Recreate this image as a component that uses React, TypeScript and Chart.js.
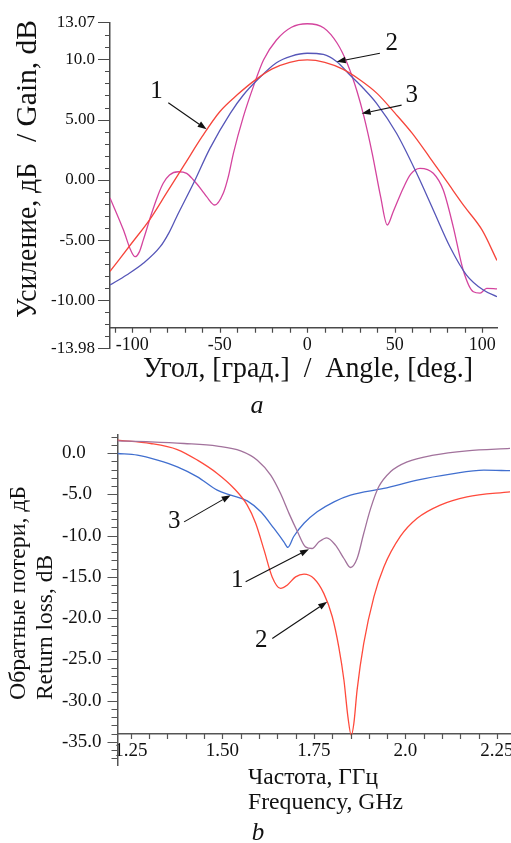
import React, { useEffect, useRef } from 'react';
import { Chart, registerables } from 'chart.js';

Chart.register(...registerables);

const SERIF = "'Liberation Serif', 'Times New Roman', Times, serif";

// ---------------- Chart (a): gain vs angle ----------------
const angle1 = [-112.7, -100, -90, -80, -70, -60, -50, -40, -30, -20, -10, 0, 10, 20, 30, 40, 50, 60, 70, 80, 90, 100, 108.4];
const gain1 = [-7.6, -5.2, -3.3, -1.0, 1.3, 3.6, 5.65, 7.05, 8.25, 9.2, 9.75, 9.95, 9.75, 9.2, 8.3, 7.15, 5.55, 3.85, 1.85, -0.2, -2.25, -4.2, -6.7];

const angle2 = [-112.7, -103.2, -93.7, -84, -79.2, -74.6, -65, -55.6, -44, -36.5, -28.6, -17.6, -9, 0, 9.2, 16.9, 24.4, 32, 39.6, 51, 62.5, 72, 81.5, 91, 100.6, 108.4];
const gain2 = [-8.73, -7.9, -6.93, -5.55, -4.44, -3.06, -0.29, 2.61, 5.52, 7.04, 8.28, 9.72, 10.27, 10.5, 10.4, 9.8, 8.7, 7.6, 6.35, 3.86, 0.54, -2.5, -5.55, -7.9, -9.15, -9.7];

const angle3 = [-112.7, -105, -100.9, -98.4, -96, -93.7, -88.9, -85.6, -82.3, -78.7, -73.7, -68.9, -65, -60.3, -57.5, -52.8, -48, -45.1, -42.2, -36.5, -30.8, -25, -17.6, -9, 0, 9.5, 17.1, 22.8, 28.5, 32.4, 37.1, 41.9, 45.7, 49.1, 54.8, 59, 64.4, 72, 77.7, 83.4, 89.1, 94.9, 98.7, 102.5, 108.4];
const gain3 = [-1.5, -4.17, -5.83, -6.38, -6.0, -5.0, -2.78, -1.4, -0.29, 0.4, 0.67, 0.54, -0.02, -0.85, -1.4, -2.09, -1.12, 0.26, 2.2, 5.24, 7.73, 9.94, 11.6, 12.66, 12.95, 12.6, 11.33, 9.67, 7.31, 5.24, 2.2, -1.4, -3.75, -2.65, -0.7, 0.45, 0.95, 0.54, -0.85, -3.9, -7.5, -9.29, -9.4, -9.0, -9.05];

const gainTickValues = [13.07, 10, 5, 0, -5, -10, -13.98];
const gainTickLabels = ['13.07', '10.0', '5.00', '0.00', '-5.00', '-10.00', '-13.98'];
const angleTickValues = [-100, -50, 0, 50, 100];
const angleTickLabels = ['-100', '-50', '0', '50', '100'];

// ---------------- Chart (b): return loss vs frequency ----------------
const freq1 = [1.2137, 1.3045, 1.3955, 1.4864, 1.55, 1.5955, 1.632, 1.659, 1.682, 1.705, 1.727, 1.745, 1.764, 1.785, 1.809, 1.832, 1.85, 1.868, 1.886, 1.905, 1.927, 1.959, 2.005, 2.077, 2.168, 2.286];
const loss1 = [1.49, 1.37, 1.17, 0.85, 0.28, -0.85, -2.67, -4.9, -7.3, -9.5, -11.36, -11.56, -10.75, -10.26, -11.15, -12.77, -13.86, -12.77, -9.74, -6.7, -4.08, -2.26, -1.05, -0.24, 0.28, 0.57];

const freq2 = [1.2137, 1.3045, 1.377, 1.432, 1.486, 1.532, 1.568, 1.591, 1.614, 1.636, 1.659, 1.677, 1.70, 1.723, 1.75, 1.777, 1.80, 1.818, 1.832, 1.843, 1.852, 1.859, 1.868, 1.886, 1.914, 1.941, 1.986, 2.032, 2.095, 2.168, 2.286];
const loss2 = [1.58, 1.17, 0.44, -0.85, -2.46, -4.28, -6.3, -8.5, -11.76, -15.0, -16.4, -16.0, -15.0, -14.67, -15.2, -17.0, -19.8, -23.5, -27.5, -32.0, -34.2, -32.8, -28.7, -23.1, -17.4, -13.8, -10.1, -7.9, -6.3, -5.3, -4.69];

const freq3 = [1.2137, 1.268, 1.323, 1.377, 1.432, 1.486, 1.523, 1.568, 1.605, 1.641, 1.668, 1.679, 1.695, 1.723, 1.759, 1.805, 1.85, 1.941, 2.032, 2.123, 2.214, 2.286];
const loss3 = [-0.04, -0.24, -0.85, -1.66, -2.87, -4.48, -5.09, -5.78, -7.11, -9.13, -10.75, -11.43, -10.1, -8.5, -7.11, -5.9, -5.09, -4.28, -3.27, -2.55, -2.06, -2.13];

const lossTickValues = [0, -5, -10, -15, -20, -25, -30, -35];
const lossTickLabels = ['0.0', '-5.0', '-10.0', '-15.0', '-20.0', '-25.0', '-30.0', '-35.0'];
const freqTickValues = [1.25, 1.5, 1.75, 2.0, 2.25];
const freqTickLabels = ['1.25', '1.50', '1.75', '2.0', '2.25'];

// callouts (number + arrow), in data units
const gainCallouts = [
  { label: '1', text: [-86.1, 7.31], from: [-79.4, 6.4], to: [-57.5, 4.19] },
  { label: '2', text: [48.2, 11.33], from: [41.5, 10.5], to: [16.8, 9.8] },
  { label: '3', text: [59.7, 7.04], from: [53.9, 6.2], to: [31.1, 5.5] },
];
const lossCallouts = [
  { label: '3', text: [1.3684, -8.33], from: [1.3956, -8.33], to: [1.5227, -5.09] },
  { label: '1', text: [1.541, -15.39], from: [1.5636, -15.6], to: [1.7365, -11.64] },
  { label: '2', text: [1.6064, -22.67], from: [1.6364, -22.46], to: [1.7864, -18.02] },
];

const pts = (xs: number[], ys: number[]) => xs.map((x, i) => ({ x, y: ys[i] }));

function range(a: number, b: number, step: number) {
  const out: number[] = [];
  const n = Math.round((b - a) / step);
  for (let i = 0; i <= n; i++) out.push(+(a + i * step).toFixed(4));
  return out;
}

type TextSpec = { text: string; x: number; y: number; size: number; width?: number; rotate?: boolean; italic?: boolean; align?: CanvasTextAlign };

function drawText(ctx: CanvasRenderingContext2D, t: TextSpec) {
  ctx.save();
  ctx.font = `${t.italic ? 'italic ' : ''}${t.size}px ${SERIF}`;
  ctx.fillStyle = '#111';
  ctx.textBaseline = 'alphabetic';
  ctx.translate(t.x, t.y);
  if (t.rotate) ctx.rotate(-Math.PI / 2);
  if (t.width) {
    const w = ctx.measureText(t.text).width;
    ctx.scale(t.width / w, 1);
    ctx.textAlign = 'left';
  } else {
    ctx.textAlign = t.align || 'center';
  }
  ctx.fillText(t.text, 0, 0);
  ctx.restore();
}

const decorPlugin = {
  id: 'decor',
  afterDraw(chart: any, _args: any, opts: any) {
    const ctx: CanvasRenderingContext2D = chart.ctx;
    const xs = chart.scales.x;
    const ys = chart.scales.y;
    const area = chart.chartArea;
    ctx.save();
    ctx.strokeStyle = opts.axisColor;
    ctx.lineWidth = 1.2;
    ctx.beginPath();
    for (const v of opts.yMinor) {
      const py = Math.round(ys.getPixelForValue(v)) + 0.5;
      const len = opts.yMajor.includes(v) ? opts.yMajorLen : opts.yMinorLen;
      ctx.moveTo(area.left - len, py);
      ctx.lineTo(area.left, py);
    }
    const axisY = ys.getPixelForValue(opts.xAxisAt);
    for (const v of opts.xMinor) {
      const px = Math.round(xs.getPixelForValue(v)) + 0.5;
      ctx.moveTo(px, axisY);
      ctx.lineTo(px, axisY + opts.xTickLen);
    }
    ctx.stroke();

    // callouts
    ctx.strokeStyle = '#111';
    ctx.fillStyle = '#111';
    ctx.lineWidth = 1.1;
    for (const c of opts.callouts) {
      const tx = xs.getPixelForValue(c.text[0]);
      const ty = ys.getPixelForValue(c.text[1]);
      ctx.font = `${opts.calloutSize}px ${SERIF}`;
      ctx.textAlign = 'center';
      ctx.textBaseline = 'middle';
      ctx.fillText(c.label, tx, ty);
      const x1 = xs.getPixelForValue(c.from[0]);
      const y1 = ys.getPixelForValue(c.from[1]);
      const x2 = xs.getPixelForValue(c.to[0]);
      const y2 = ys.getPixelForValue(c.to[1]);
      const ang = Math.atan2(y2 - y1, x2 - x1);
      const hl = 9, hw = 3.2;
      const bx = x2 - hl * Math.cos(ang), by = y2 - hl * Math.sin(ang);
      ctx.beginPath();
      ctx.moveTo(x1, y1);
      ctx.lineTo(bx, by);
      ctx.stroke();
      ctx.beginPath();
      ctx.moveTo(x2, y2);
      ctx.lineTo(bx + hw * Math.sin(ang), by - hw * Math.cos(ang));
      ctx.lineTo(bx - hw * Math.sin(ang), by + hw * Math.cos(ang));
      ctx.closePath();
      ctx.fill();
    }
    for (const t of opts.texts) drawText(ctx, t);
    ctx.restore();
  },
};

function lineDs(data: any[], color: string) {
  return {
    data,
    borderColor: color,
    backgroundColor: color,
    borderWidth: 1.3,
    pointRadius: 0,
    fill: false,
    cubicInterpolationMode: 'monotone',
  };
}

// keep the chart area exactly where the layout padding puts it
const noAutoPad = (s: any) => {
  s.paddingTop = 0;
  s.paddingBottom = 0;
  s.paddingLeft = 0;
  s.paddingRight = 0;
};

const W = 511;
const H1 = 420;
const H2 = 423;

function gainConfig(): any {
  return {
    type: 'line',
    data: {
      datasets: [
        lineDs(pts(angle1, gain1), '#f6453b'),
        lineDs(pts(angle2, gain2), '#5656b8'),
        lineDs(pts(angle3, gain3), '#d4449e'),
      ],
    },
    options: {
      animation: false,
      responsive: false,
      maintainAspectRatio: false,
      layout: { padding: { left: 0, right: 14, top: 22.3, bottom: H1 - 348.3 } },
      plugins: {
        legend: { display: false },
        tooltip: { enabled: false },
        decor: {
          axisColor: '#4a4a4a',
          yMinor: [13.07, ...range(-13, 12, 1), -13.98],
          yMajor: gainTickValues,
          yMajorLen: 12,
          yMinorLen: 5,
          xMinor: range(-110, 100, 10),
          xAxisAt: -12.27,
          xTickLen: 5,
          calloutSize: 25,
          callouts: gainCallouts,
          texts: [
            { text: 'Усиление, дБ', x: 36, y: 318, size: 29, width: 155, rotate: true },
            { text: '/ Gain, dB', x: 36, y: 142, size: 29, width: 122, rotate: true },
            { text: 'Угол, [град.]  /  Angle, [deg.]', x: 143, y: 377, size: 29, width: 330 },
            { text: 'a', x: 257, y: 413, size: 26, italic: true },
          ],
        },
      },
      scales: {
        x: {
          type: 'linear',
          min: -112.7,
          max: 108.4,
          position: { y: -12.27 },
          grid: { display: false, drawTicks: false },
          border: { display: true, color: '#4a4a4a', width: 1.5 },
          afterBuildTicks: (s: any) => { s.ticks = angleTickValues.map((v) => ({ value: v })); },
          afterFit: noAutoPad,
          ticks: {
            autoSkip: false,
            maxRotation: 0,
            padding: 7,
            color: '#111',
            font: { family: SERIF, size: 18 },
            callback: (v: number) => { const i = angleTickValues.indexOf(v); return i >= 0 ? angleTickLabels[i] : ''; },
          },
        },
        y: {
          type: 'linear',
          min: -13.98,
          max: 13.07,
          position: 'left',
          afterFit: (s: any) => { s.width = 110; noAutoPad(s); },
          grid: { display: false, drawTicks: false },
          border: { display: true, color: '#4a4a4a', width: 1.5 },
          afterBuildTicks: (s: any) => { s.ticks = gainTickValues.map((v) => ({ value: v })); },
          ticks: {
            autoSkip: false,
            padding: 15,
            color: '#111',
            font: { family: SERIF, size: 17 },
            callback: (v: number) => { const i = gainTickValues.indexOf(v); return i >= 0 ? gainTickLabels[i] : ''; },
          },
        },
      },
    },
    plugins: [decorPlugin],
  };
}

function lossConfig(): any {
  return {
    type: 'line',
    data: {
      datasets: [
        lineDs(pts(freq1, loss1), '#a2729c'),
        lineDs(pts(freq2, loss2), '#ff4a3c'),
        lineDs(pts(freq3, loss3), '#416fcf'),
      ],
    },
    options: {
      animation: false,
      responsive: false,
      maintainAspectRatio: false,
      layout: { padding: { left: 62, right: 1, top: 15, bottom: H2 - 345 } },
      plugins: {
        legend: { display: false },
        tooltip: { enabled: false },
        decor: {
          axisColor: '#555',
          yMinor: range(-37, 2, 1),
          yMajor: lossTickValues,
          yMajorLen: 10,
          yMinorLen: 6,
          xMinor: range(1.25, 2.25, 0.05),
          xAxisAt: -34.05,
          xTickLen: 5,
          calloutSize: 25,
          callouts: lossCallouts,
          texts: [
            { text: 'Обратные потери, дБ', x: 25, y: 280, size: 24, width: 214, rotate: true },
            { text: 'Return loss, dB', x: 52, y: 280, size: 24, width: 145, rotate: true },
            { text: 'Частота, ГГц', x: 248, y: 364, size: 24, width: 130 },
            { text: 'Frequency, GHz', x: 248, y: 389, size: 24, width: 155 },
            { text: 'b', x: 258, y: 420, size: 25, italic: true },
          ],
        },
      },
      scales: {
        x: {
          type: 'linear',
          min: 1.2137,
          max: 2.2855,
          position: { y: -34.05 },
          grid: { display: false, drawTicks: false },
          border: { display: true, color: '#555', width: 1.5 },
          afterBuildTicks: (s: any) => { s.ticks = freqTickValues.map((v) => ({ value: v })); },
          afterFit: noAutoPad,
          ticks: {
            autoSkip: false,
            maxRotation: 0,
            padding: 6,
            color: '#111',
            font: { family: SERIF, size: 19 },
            callback: (v: number) => { const i = freqTickValues.indexOf(v); return i >= 0 ? freqTickLabels[i] : ''; },
          },
        },
        y: {
          type: 'linear',
          min: -37.8,
          max: 2.2,
          position: 'left',
          afterFit: (s: any) => { s.width = 55.5; noAutoPad(s); },
          grid: { display: false, drawTicks: false },
          border: { display: true, color: '#555', width: 1.5 },
          afterBuildTicks: (s: any) => { s.ticks = lossTickValues.map((v) => ({ value: v })); },
          ticks: {
            autoSkip: false,
            padding: 12,
            crossAlign: 'far',
            color: '#111',
            font: { family: SERIF, size: 19 },
            callback: (v: number) => { const i = lossTickValues.indexOf(v); return i >= 0 ? lossTickLabels[i] : ''; },
          },
        },
      },
    },
    plugins: [decorPlugin],
  };
}

export default function App() {
  const ref1 = useRef<HTMLCanvasElement>(null);
  const ref2 = useRef<HTMLCanvasElement>(null);

  useEffect(() => {
    const c1 = new Chart(ref1.current as HTMLCanvasElement, gainConfig());
    const c2 = new Chart(ref2.current as HTMLCanvasElement, lossConfig());
    return () => {
      c1.destroy();
      c2.destroy();
    };
  }, []);

  return (
    <div style={{ position: 'absolute', left: 0, top: 0, width: W, height: H1 + H2, background: '#fff' }}>
      <canvas ref={ref1} width={W} height={H1} style={{ position: 'absolute', left: 0, top: 0, width: W, height: H1 }} />
      <canvas ref={ref2} width={W} height={H2} style={{ position: 'absolute', left: 0, top: H1, width: W, height: H2 }} />
    </div>
  );
}
